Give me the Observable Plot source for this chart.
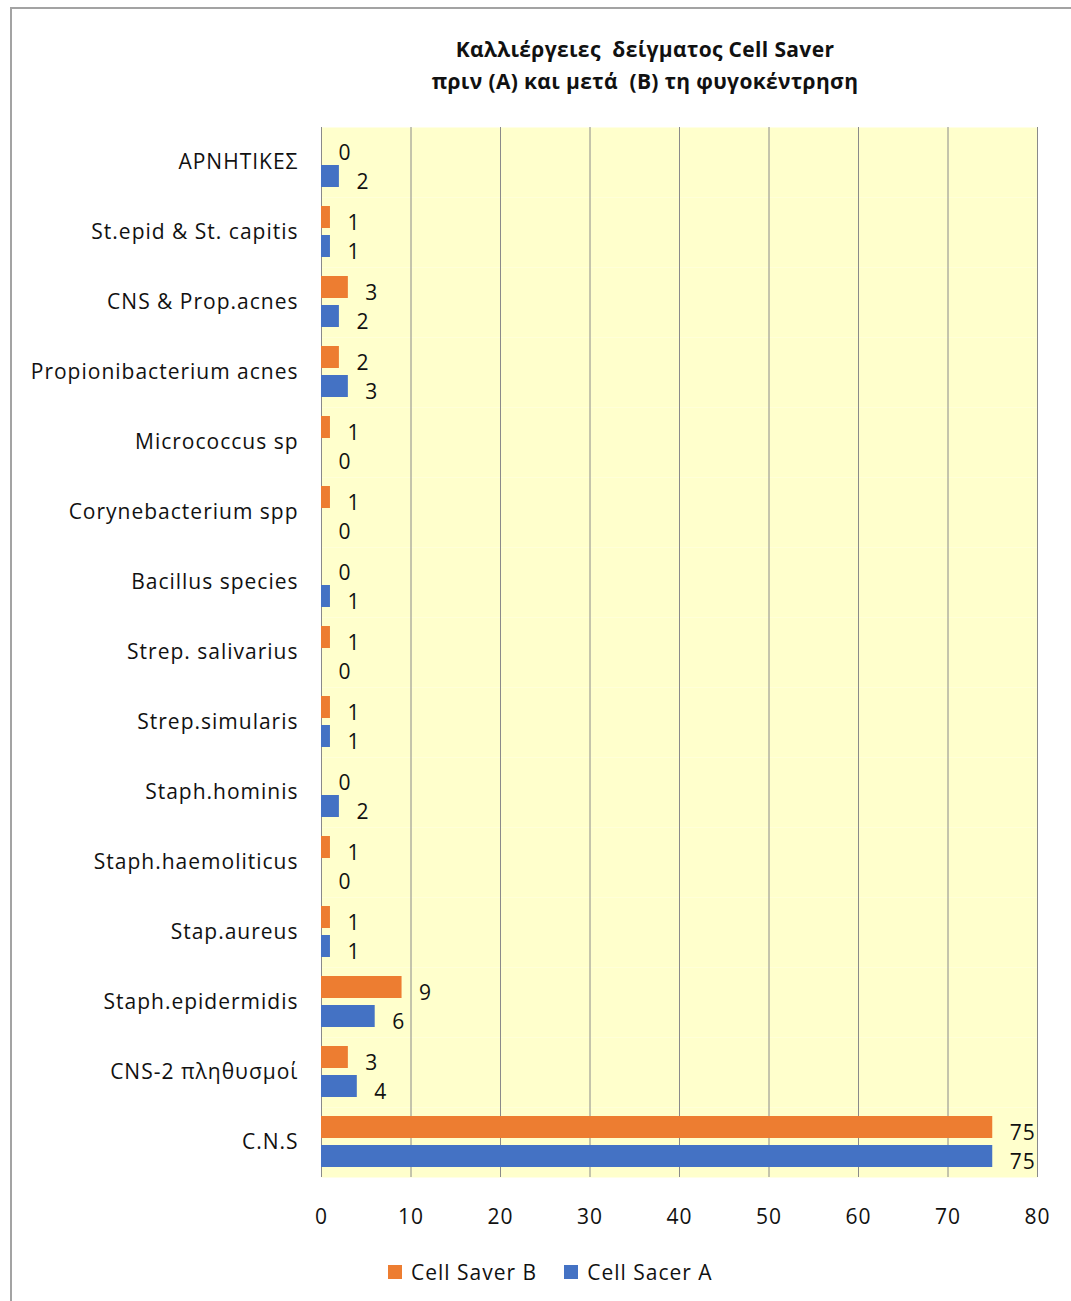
<!DOCTYPE html>
<html>
<head>
<meta charset="utf-8">
<script src="https://cdn.jsdelivr.net/npm/d3@7"></script>
<script src="https://cdn.jsdelivr.net/npm/@observablehq/plot@0.6"></script>
<style>
  html, body { margin: 0; padding: 0; background: #fff; overflow: hidden; }
  #wrap { position: relative; width: 1071px; height: 1301px; font-family: "Open Sans", sans-serif; }
  #border { position: absolute; left: 10px; top: 7px; width: 1100px; height: 1330px; border: 2px solid #a3a3a3; box-sizing: border-box; }
  #title { position: absolute; left: 0; width: 1290px; top: 33px; text-align: center; font-weight: bold; font-size: 21px; line-height: 32px; letter-spacing: 0.35px; white-space: pre; color: #111; }
  #chart { position: absolute; left: 0; top: 0; }
  #chart svg text { letter-spacing: 1px; }
  #legend { position: absolute; top: 1258px; left: 388px; font-size: 21px; letter-spacing: 1px; color: #111; white-space: nowrap; }
  #legend span.sw { display: inline-block; width: 14px; height: 14px; vertical-align: 1px; margin-right: 9px; }
  #legend span.it { margin-right: 27px; }
</style>
</head>
<body>
<div id="wrap">
  <div id="border"></div>
  <div id="title"></div>
  <div id="chart"></div>
  <div id="legend"></div>
</div>
<script>
const titleLines = ["Καλλιέργειες  δείγματος Cell Saver", "πριν (Α) και μετά  (Β) τη φυγοκέντρηση"];
const categories = ["ΑΡΝΗΤΙΚΕΣ","St.epid & St. capitis","CNS & Prop.acnes","Propionibacterium acnes","Micrococcus sp","Corynebacterium spp","Bacillus species","Strep. salivarius","Strep.simularis","Staph.hominis","Staph.haemoliticus","Stap.aureus","Staph.epidermidis","CNS-2 πληθυσμοί","C.N.S"];
const seriesNames = ["Cell Saver B", "Cell Sacer A"];
const valuesB = [0,1,3,2,1,1,0,1,1,0,1,1,9,3,75];
const valuesA = [2,1,2,3,0,0,1,0,1,2,0,1,6,4,75];
const xTicks = [0,10,20,30,40,50,60,70,80];
const colors = ["#ED7D31", "#4472C4"];

const rows = [];
categories.forEach((c, i) => {
  rows.push({category: c, series: seriesNames[0], value: valuesB[i]});
  rows.push({category: c, series: seriesNames[1], value: valuesA[i]});
});

document.getElementById("title").textContent = titleLines.join("\n");

const chart = Plot.plot({
  width: 1071,
  height: 1238,
  marginLeft: 321,
  marginRight: 34,
  marginTop: 125,
  marginBottom: 60,
  style: {fontFamily: "'Open Sans', sans-serif", fontSize: "21px", color: "#111", background: "transparent"},
  facet: {data: rows, y: "category"},
  fy: {domain: categories, padding: 0, label: null, axis: "left", tickSize: 0, tickPadding: 23},
  y: {domain: seriesNames, axis: null, paddingInner: 0.237, paddingOuter: 0.308},
  x: {domain: [0, 80], ticks: xTicks, tickSize: 0, tickPadding: 32, label: null, tickFormat: d => String(d)},
  color: {domain: seriesNames, range: colors},
  marks: [
    Plot.frame({fill: "#FFFFCC", stroke: null}),
    Plot.ruleX(xTicks, {stroke: "#8a8a8a", strokeWidth: 1}),
    Plot.barX(rows, {x: "value", y: "series", fill: "series"}),
    Plot.text(rows, {x: "value", y: "series", text: d => String(d.value), textAnchor: "start", dx: 17, dy: 6, fill: "#111", fontSize: 21})
  ]
});
document.getElementById("chart").appendChild(chart);

const legend = document.getElementById("legend");
seriesNames.forEach((s, i) => {
  const it = document.createElement("span");
  it.className = "it";
  const sw = document.createElement("span");
  sw.className = "sw";
  sw.style.background = colors[i];
  it.appendChild(sw);
  it.appendChild(document.createTextNode(s));
  legend.appendChild(it);
});
</script>
</body>
</html>
